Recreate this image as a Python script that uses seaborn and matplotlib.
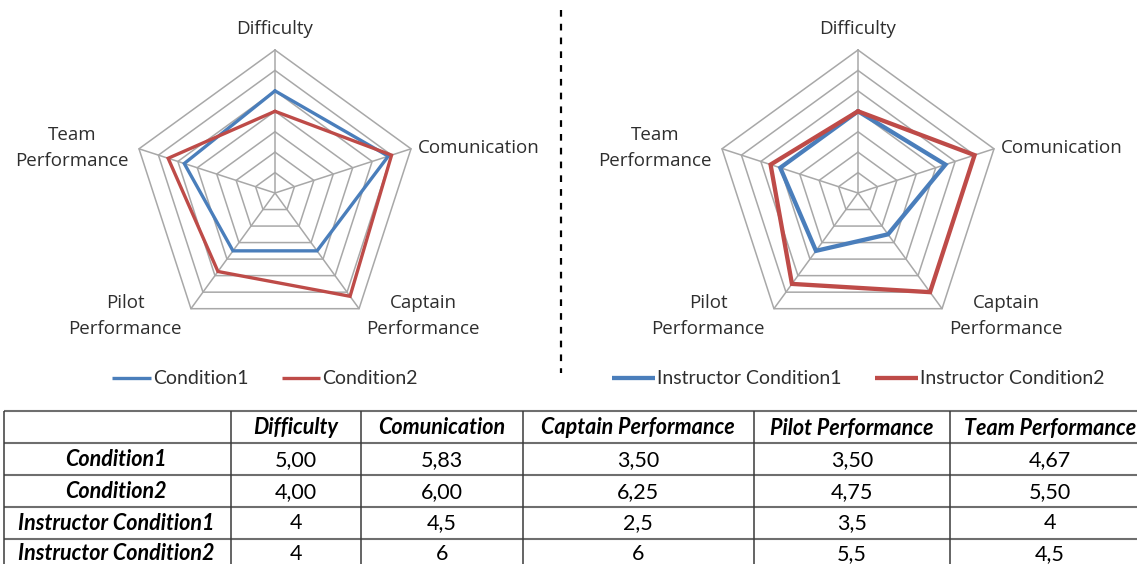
import numpy as np
import pandas as pd
import matplotlib
matplotlib.use("Agg")
import matplotlib.pyplot as plt
import seaborn as sns

# ---- data -------------------------------------------------------------
categories = ["Difficulty", "Comunication", "Captain Performance",
              "Pilot Performance", "Team Performance"]
axis_labels = ["Difficulty", "Comunication", "Captain\nPerformance",
               "Pilot\nPerformance", "Team\nPerformance"]
condition1 = [5.00, 5.83, 3.50, 3.50, 4.67]
condition2 = [4.00, 6.00, 6.25, 4.75, 5.50]
instructor_condition1 = [4, 4.5, 2.5, 3.5, 4]
instructor_condition2 = [4, 6, 6, 5.5, 4.5]
left_names = ["Condition1", "Condition2"]
right_names = ["Instructor Condition1", "Instructor Condition2"]
ring_levels = [1, 2, 3, 4, 5, 6, 7]
scale_max = 7

BLUE = "#4A7EBB"
RED = "#BE4B48"
GRID = "#A8A8A8"
LABEL = "#2E2E2E"

sns.set_style("white")
plt.rcParams["font.family"] = ["Open Sans", "DejaVu Sans"]

W, H = 1137, 564
fig = plt.figure(figsize=(W / 100, H / 100), dpi=100)
ax = fig.add_axes([0, 0, 1, 1])


def vertex(cx, cy, r, k):
    a = np.pi / 2 - 2 * np.pi * k / 5
    return cx + r * np.cos(a), cy - r * np.sin(a)


def radar(cx, cy, R, names, series, lw):
    # pentagonal grid rings and spokes
    for lev in ring_levels:
        pts = [vertex(cx, cy, lev / scale_max * R, k % 5) for k in range(6)]
        ax.plot([p[0] for p in pts], [p[1] for p in pts], color=GRID, lw=1.1, zorder=1)
    for k in range(5):
        x, y = vertex(cx, cy, R, k)
        ax.plot([cx, x], [cy, y], color=GRID, lw=1.1, zorder=1)
    # series polygons
    rows = []
    for name, vals in zip(names, series):
        for i in range(6):
            k = i % 5
            x, y = vertex(cx, cy, vals[k] / scale_max * R, k)
            rows.append({"series": name, "order": i, "x": x, "y": y})
    df = pd.DataFrame(rows)
    sns.lineplot(data=df, x="x", y="y", hue="series", hue_order=names,
                 palette=[BLUE, RED], sort=False, estimator=None,
                 legend=False, linewidth=lw, ax=ax, zorder=3,
                 solid_joinstyle="miter")
    # axis labels
    offsets = [(0, -164, "center"), (143, -45, "left"), (148, 123, "center"),
               (-150, 123, "center"), (-203, -45, "center")]
    for lab, (dx, dy, ha) in zip(axis_labels, offsets):
        ax.text(cx + dx, cy + dy, lab, ha=ha, va="center", fontsize=13.5,
                color=LABEL, linespacing=1.6)


radar(275, 193, 143, left_names, [condition1, condition2], 2.4)
radar(858, 193, 143, right_names, [instructor_condition1, instructor_condition2], 3.1)

# divider
ax.plot([561, 561], [10, 373], color="black", lw=1.6, dashes=(3, 3.2))

# legends
leg_font = ["Lato", "DejaVu Sans"]
legend_items = [
    (112, 151, left_names[0], BLUE, 2.4),
    (282, 320, left_names[1], RED, 2.4),
    (612, 655, right_names[0], BLUE, 3.1),
    (875, 918, right_names[1], RED, 3.1),
]
for x0, x1, name, col, lw in legend_items:
    ax.plot([x0, x1], [378, 378], color=col, lw=lw, solid_capstyle="butt")
    ax.text(x1 + 2, 378, name, ha="left", va="center", fontsize=14,
            color=LABEL, family=leg_font)

# table
def fmt2(v):
    return f"{v:.2f}".replace(".", ",")


def fmtg(v):
    return f"{v:g}".replace(".", ",")


row_names = left_names + right_names
row_values = [[fmt2(v) for v in condition1],
              [fmt2(v) for v in condition2],
              [fmtg(v) for v in instructor_condition1],
              [fmtg(v) for v in instructor_condition2]]
col_edges = [4, 231, 361, 523, 754, 950]
col_centers = [116, 296, 442, 638, 852, 1050]
row_edges = [411, 443, 475, 507, 539]
row_centers = [428, 460, 492, 523, 554]
tfont = ["Lato", "DejaVu Sans"]
tcolor = "#000000"

for y in row_edges:
    ax.plot([4, W], [y, y], color="#6E6E6E", lw=1.5, solid_capstyle="butt")
for x in col_edges:
    ax.plot([x, x], [411, H], color="#3A3A3A", lw=1.1, solid_capstyle="butt")

for c, name in enumerate(categories):
    ax.text(col_centers[c + 1], row_centers[0], name, ha="center", va="center",
            fontsize=15.5, fontweight="bold", fontstyle="italic", color=tcolor,
            family=tfont)
for r, (name, vals) in enumerate(zip(row_names, row_values)):
    yc = row_centers[r + 1]
    ax.text(col_centers[0], yc, name, ha="center", va="center", fontsize=15.5,
            fontweight="bold", fontstyle="italic", color=tcolor, family=tfont)
    for c, s in enumerate(vals):
        ax.text(col_centers[c + 1], yc, s, ha="center", va="center",
                fontsize=15.5, color=tcolor, family=tfont)

ax.set_xlim(0, W)
ax.set_ylim(H, 0)
ax.axis("off")
fig.savefig("out.png", dpi=100)
